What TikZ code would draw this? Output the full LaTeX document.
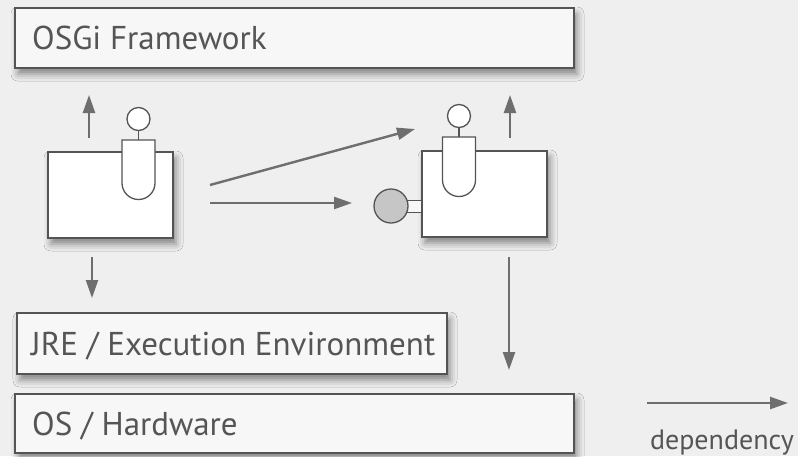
\documentclass[tikz,border=0pt]{standalone}
\usepackage{fontspec}
\setmainfont{PT Sans}
\usetikzlibrary{arrows.meta,shadows.blur}
\definecolor{bggray}{HTML}{EFEFEF}
\definecolor{boxfill}{HTML}{F7F7F7}
\definecolor{edgegray}{HTML}{545454}
\definecolor{arrgray}{HTML}{6E6E6E}
\definecolor{txtgray}{HTML}{555555}
\definecolor{portgray}{HTML}{C6C6C6}

\begin{document}
\begin{tikzpicture}[x=1pt,y=-1pt,
    softshadow/.style={blur shadow={shadow xshift=3pt,shadow yshift=-6pt,shadow blur radius=7pt,shadow opacity=45}},
    layer/.style={draw=edgegray,fill=boxfill,line width=1.6pt,anchor=north west,outer sep=0pt,inner sep=0pt,softshadow},
    laytext/.style={anchor=west,inner sep=0pt,text=txtgray,text height=23pt,text depth=0pt,font=\fontsize{33}{36}\selectfont},
    bundle/.style={draw=edgegray,fill=white,line width=1.6pt,anchor=north west,outer sep=0pt,inner sep=0pt,
      minimum width=125pt,minimum height=86pt,softshadow},
    svc/.style={draw=edgegray,fill=white,line width=1.3pt},
    dep/.style={draw=arrgray,line width=2.4pt,-{Triangle[length=18pt,width=12pt]}}]
  \fill[bggray] (0,0) rectangle (798,456);
  \useasboundingbox (0,0) rectangle (798,456);

  % layers
  \node[layer,minimum width=559pt,minimum height=60pt] (fw) at (15,8) {};
  \node[laytext] (fwtext) at ([xshift=17pt]fw.west) {OSGi Framework};
  \node[layer,minimum width=430pt,minimum height=61pt] (jre) at (17,313) {};
  \node[laytext] (jretext) at ([xshift=14pt]jre.west) {JRE / Execution Environment};
  \node[layer,minimum width=559pt,minimum height=59pt] (os) at (15,394) {};
  \node[laytext] (ostext) at ([xshift=17pt]os.west) {OS / Hardware};

  % bundles
  \node[bundle] (bndA) at (48,152) {};
  \node[bundle] (bndB) at (422,151) {};

  % imported package of bundle B
  \draw[svc,fill=boxfill] (404,200.5) rectangle (422,212.5);
  \node[svc,fill=portgray,circle,minimum size=34pt,inner sep=0pt] (pkgB) at (391,206) {};

  % services
  \foreach \x/\y in {122/140,442.5/137}{
    \draw[svc] (\x,\y) -- (\x,\y+43) arc[start angle=180,end angle=360,radius=16.5pt] -- (\x+33,\y) -- cycle;
    \draw[svc] (\x+16.5,\y) -- (\x+16.5,\y-9);
    \draw[svc] (\x+16.5,\y-21) circle[radius=11.5pt];
  }

  % dependencies
  \coordinate (upAs) at (89,138);   \coordinate (upAe) at (89,95);
  \coordinate (upBs) at (510,138);  \coordinate (upBe) at (510,95);
  \coordinate (dnAs) at (92,257);   \coordinate (dnAe) at (92,298);
  \coordinate (dnBs) at (509,257);  \coordinate (dnBe) at (509,370);
  \coordinate (svcAs) at (210,185); \coordinate (svcAe) at (415,129);
  \coordinate (pkgAs) at (210,203); \coordinate (pkgAe) at (352,203);
  \draw[dep] (upAs) -- (upAe);
  \draw[dep] (upBs) -- (upBe);
  \draw[dep] (dnAs) -- (dnAe);
  \draw[dep] (dnBs) -- (dnBe);
  \draw[dep] (svcAs) -- (svcAe);
  \draw[dep] (pkgAs) -- (pkgAe);

  % legend
  \coordinate (legs) at (647,403); \coordinate (lege) at (788,403);
  \draw[dep] (legs) -- (lege);
  \node[text=txtgray,font=\fontsize{28}{30}\selectfont,anchor=base,inner sep=0pt] (legtext) at (722,449) {dependency};
\end{tikzpicture}
\end{document}
